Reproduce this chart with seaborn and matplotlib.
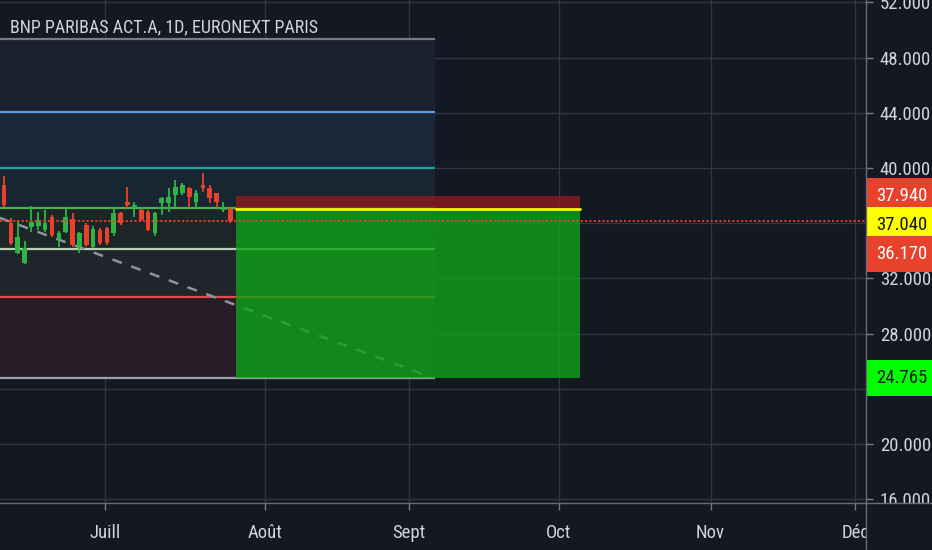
import numpy as np
import pandas as pd
import matplotlib
matplotlib.use("Agg")
import matplotlib.pyplot as plt
import matplotlib.transforms as mtransforms
from matplotlib.lines import Line2D
from matplotlib import font_manager as fm
import seaborn as sns

# ---- data (bar index = trading day) ----
opens  = [38.77, 36.01, 33.84, 33.12, 35.72, 35.80, 35.51, 36.45, 34.86, 35.36,
          36.30, 34.28, 35.87, 34.28, 35.51, 35.65, 35.29, 36.74, 37.54, 37.10,
          36.96, 36.81, 35.29, 37.46, 37.46, 38.04, 38.19, 38.55, 37.54, 38.77,
          38.55, 38.19, 36.96, 37.03]
highs  = [39.42, 36.38, 36.23, 34.71, 37.25, 36.81, 36.96, 36.59, 35.43, 37.17,
          36.74, 35.36, 36.01, 35.80, 35.65, 35.72, 37.17, 36.81, 38.62, 37.54,
          37.03, 36.96, 36.81, 37.90, 38.55, 39.13, 38.91, 38.62, 38.41, 39.64,
          38.77, 38.19, 37.54, 37.10]
lows   = [37.17, 34.42, 33.77, 33.04, 35.36, 35.51, 35.36, 35.00, 34.28, 35.29,
          34.28, 33.84, 34.28, 34.20, 34.42, 34.42, 35.07, 35.87, 37.10, 36.45,
          36.16, 35.43, 35.07, 36.59, 36.81, 37.17, 38.04, 37.17, 37.10, 38.26,
          37.46, 37.17, 36.81, 36.01]
closes = [37.32, 34.57, 35.00, 34.20, 36.09, 36.23, 36.01, 35.14, 35.29, 36.45,
          34.42, 35.29, 34.42, 35.58, 34.57, 34.57, 36.74, 36.01, 37.32, 37.32,
          36.23, 35.51, 36.74, 37.83, 37.90, 38.62, 38.77, 37.90, 38.19, 38.55,
          37.83, 37.54, 37.17, 36.17]

# fibonacci levels (top to bottom) and the fill colours between them
fib_levels = [49.35, 44.04, 40.00, 37.08, 34.13, 30.63, 24.80]
fib_line_colors = ['#787b86', '#5d9fe6', '#22a39a', '#4caf50', '#b5d3b3', '#e04b4b', '#9aa0a8']
fib_fill_colors = ['#1c2131', '#1a2739', '#172630', '#1c2628', '#20252b', '#281d27']
fib_x = [-0.6, 62.8]

# long/short position tool
entry_price = 37.04
stop_price = 37.94
target_price = 24.765
position_x = [33.8, 84.0]

# dashed trend line
trend_x = [-0.6, 62.5]
trend_y = [36.38, 24.80]

last_price = 36.17

month_pos = [14.7, 38.0, 59.0, 80.9, 103.0, 124.1]
month_labels = ['Juill', 'Août', 'Sept', 'Oct', 'Nov', 'Déc']
price_ticks = [16, 20, 24, 28, 32, 36, 40, 44, 48, 52]

BG = '#141823'
GRID = '#323643'
TXT = '#d1d4dc'
RED = '#e8412c'
GREEN = '#2fb344'

sns.set_theme(style='dark')

# pick a narrow sans if one is available
installed = {f.name for f in fm.fontManager.ttflist}
narrow = [n for n in ['Roboto Condensed', 'PT Sans Narrow', 'Open Sans Condensed',
                      'Archivo Narrow', 'Liberation Sans Narrow', 'Fira Sans Condensed']
          if n in installed]
plt.rcParams['font.family'] = narrow[:1] + ['DejaVu Sans']
fs = 13.5 if narrow else 10.5

fig = plt.figure(figsize=(9.32, 5.5), dpi=100, facecolor=BG)
ax = fig.add_axes([0, 47 / 550, 866 / 932, 503 / 550])
ax.set_facecolor(BG)
ax.set_xlim(-0.58, 125.66)
ax.set_ylim(15.72, 52.17)

# grid
ax.set_xticks(month_pos)
ax.set_xticklabels(month_labels)
ax.set_yticks(price_ticks)
ax.set_yticklabels([f'{v:.3f}' for v in price_ticks])
ax.grid(True, color=GRID, lw=1)
ax.set_axisbelow(True)
ax.yaxis.tick_right()
ax.tick_params(axis='y', colors='#787b86', labelcolor=TXT, labelsize=fs, length=5, pad=5, width=1)
ax.tick_params(axis='x', colors='#787b86', labelcolor=TXT, labelsize=fs, length=5, pad=10, width=1,
               bottom=True)
for s in ['left', 'top', 'right', 'bottom']:
    ax.spines[s].set_visible(False)

# fib zones
for i in range(len(fib_fill_colors)):
    ax.fill_between(fib_x, fib_levels[i + 1], fib_levels[i], color=fib_fill_colors[i], lw=0, zorder=1)
for lvl, c in zip(fib_levels, fib_line_colors):
    ax.plot(fib_x, [lvl, lvl], color=c, lw=1.6, zorder=2, solid_capstyle='butt')

# trend line
trend = pd.DataFrame({'x': trend_x, 'y': trend_y})
sns.lineplot(data=trend, x='x', y='y', ax=ax, color='#8f939c', lw=1.8, zorder=3,
             dashes=False, linestyle=(0, (4, 4)))

# candles
df = pd.DataFrame({'o': opens, 'h': highs, 'l': lows, 'c': closes})
df['i'] = np.arange(len(df))
colors = [GREEN if c >= o else RED for o, c in zip(df.o, df.c)]
ax.vlines(df.i, df.l, df.h, colors=colors, lw=1.3, zorder=4)
ax.bar(df.i, (df.c - df.o).abs().clip(lower=0.08), bottom=np.minimum(df.o, df.c),
       width=0.68, color=colors, lw=0, zorder=5)

# position tool
ax.fill_between(position_x, target_price, entry_price, color='#0ea318', alpha=0.8, lw=0, zorder=6)
ax.fill_between(position_x, entry_price, stop_price, color='#8c1c1f', alpha=0.8, lw=0, zorder=6)
ax.plot(position_x, [entry_price, entry_price], color='#f5f500', lw=2, zorder=7)

# last price line
ax.axhline(last_price, color=RED, lw=1.3, ls=(0, (1.2, 1.2)), zorder=8)

# clip tick labels to the price/time panels
ybox = mtransforms.TransformedBbox(mtransforms.Bbox([[866 / 932, 47 / 550], [1, 1]]), fig.transFigure)
for lab in ax.get_yticklabels():
    lab.set_clip_box(ybox)
    lab.set_clip_on(True)
xbox = mtransforms.TransformedBbox(mtransforms.Bbox([[0, 0], [866 / 932, 47 / 550]]), fig.transFigure)
for lab in ax.get_xticklabels():
    lab.set_clip_box(xbox)
    lab.set_clip_on(True)

# price labels on the scale
tr = mtransforms.blended_transform_factory(fig.transFigure, ax.transData)
labels = [(stop_price, 0, RED, 'white'),
          (entry_price, -16, '#ffff00', '#131722'),
          (last_price, -33, RED, 'white'),
          (target_price, 0, '#00ff00', '#131722')]
for price, off, fc, tc in labels:
    t = mtransforms.offset_copy(tr, fig=fig, x=0, y=off * 0.72, units='points')
    ax.text(876 / 932, price, f'{price:.3f}', transform=t, ha='left', va='center',
            fontsize=fs, color=tc, clip_on=False, zorder=20,
            bbox=dict(boxstyle='square,pad=0.48', fc=fc, ec='none'))

# panel separators
fig.add_artist(Line2D([866 / 932, 866 / 932], [0, 1], color='#6a6d78', lw=1))
fig.add_artist(Line2D([0, 1], [47 / 550, 47 / 550], color='#6a6d78', lw=1))

fig.text(10 / 932, 1 - 27 / 550, 'BNP PARIBAS ACT.A, 1D, EURONEXT PARIS',
         color=TXT, fontsize=fs - 0.5, va='center', ha='left')

fig.savefig('out.png', dpi=100, facecolor=BG)
